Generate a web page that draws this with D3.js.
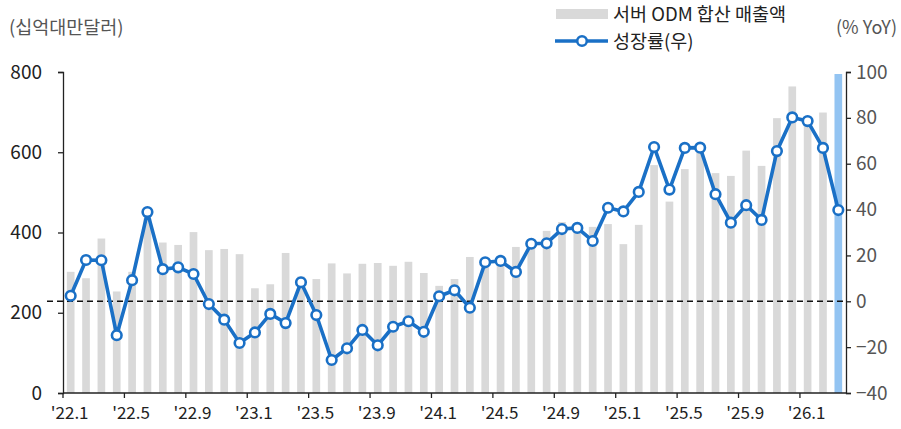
<!DOCTYPE html>
<html>
<head>
<meta charset="utf-8">
<script src="https://cdn.jsdelivr.net/npm/d3@7"></script>
<style>
  body { margin: 0; background: #fff; }
  svg text { font-family: "Noto Sans CJK KR", "Noto Sans", sans-serif; }
</style>
</head>
<body>
<div id="chart"></div>
<script>
// 월 (22.1 ~ 26.3)
const months = [];
for (let y = 22; y <= 26; y++) {
    for (let m = 1; m <= 12; m++) {
        if (y == 26 && m > 3) break;
        months.push("'" + y + "." + m);
    }
}

// 서버 ODM 합산 매출액 (십억대만달러)
const revenue = [
    302, 286, 385, 253, 302, 435, 375, 369, 401, 356, 359, 346,
    261, 271, 349, 290, 284, 323, 298, 322, 324, 317, 327, 299,
    267, 284, 339, 330, 325, 364, 380, 404, 426, 415, 414, 421,
    371, 419, 568, 477, 558, 600, 548, 541, 604, 566, 685, 764,
    680, 699, 795
];

// 성장률 (% YoY, 우축)
const growth = [
    2.4, 18.0, 17.9, -14.8, 9.2, 38.9, 14.0, 14.8, 11.9, -1.2, -8.0, -18.2,
    -13.6, -5.5, -9.5, 8.3, -6.0, -25.6, -20.5, -12.5, -19.2, -11.1, -8.7, -13.3,
    2.2, 4.8, -2.8, 17.0, 17.6, 12.8, 25.1, 25.3, 31.5, 32.0, 26.3, 40.8,
    39.2, 47.7, 67.3, 48.7, 66.9, 67.0, 46.7, 34.3, 41.9, 35.5, 65.5, 80.2,
    78.6, 66.9, 39.8
];

const leftTicks = [0, 200, 400, 600, 800];
const rightTicks = [-40, -20, 0, 20, 40, 60, 80, 100];
const xTickLabels = ["'22.1", "'22.5", "'22.9", "'23.1", "'23.5", "'23.9", "'24.1",
                     "'24.5", "'24.9", "'25.1", "'25.5", "'25.9", "'26.1"];

const W = 901, H = 429;
const mLeft = 63, mRight = 846, mTop = 72, mBottom = 393;
const blue = "#1a70c6";

const svg = d3.select("#chart").append("svg").attr("width", W).attr("height", H);

const x = d3.scaleBand().domain(months).range([mLeft, mRight]).paddingInner(0.5).paddingOuter(0.25);
const yL = d3.scaleLinear().domain([0, 800]).range([mBottom, mTop]);
const yR = d3.scaleLinear().domain([-40, 100]).range([mBottom, mTop]);

// 막대
svg.append("g").selectAll("rect")
    .data(revenue)
    .join("rect")
    .attr("x", (d, i) => x(months[i]))
    .attr("y", d => yL(d))
    .attr("width", x.bandwidth())
    .attr("height", d => yL(0) - yL(d))
    .attr("fill", (d, i) => i == revenue.length - 1 ? "#93c4f2" : "#d9d9d9");

// 0% 점선
svg.append("line")
    .attr("x1", 47).attr("x2", mRight)
    .attr("y1", yR(0)).attr("y2", yR(0))
    .attr("stroke", "#111").attr("stroke-width", 1.6)
    .attr("stroke-dasharray", "6,4");

// 축
const yAxisL = svg.append("g").attr("transform", "translate(" + mLeft + ",0)")
    .call(d3.axisLeft(yL).tickValues(leftTicks).tickSize(5).tickPadding(16));
const yAxisR = svg.append("g").attr("transform", "translate(" + mRight + ",0)")
    .call(d3.axisRight(yR).tickValues(rightTicks).tickSize(5).tickPadding(5));
yAxisL.selectAll("text").attr("fill", "#222");
yAxisR.selectAll("text").attr("fill", "#555");
[yAxisL, yAxisR].forEach(a => {
    a.selectAll("text").style("font-size", "19px");
    a.select(".domain").attr("stroke", "#222").attr("stroke-width", 1.3);
    a.selectAll(".tick line").attr("stroke", "#222").attr("stroke-width", 1.3);
});

// x축
const xg = svg.append("g");
xg.append("line").attr("x1", mLeft).attr("x2", mRight).attr("y1", mBottom).attr("y2", mBottom)
    .attr("stroke", "#222").attr("stroke-width", 1.3);
xTickLabels.forEach(lab => {
    const xi = x(lab) - x.bandwidth() / 2;
    xg.append("line").attr("x1", xi).attr("x2", xi).attr("y1", mBottom).attr("y2", mBottom + 5)
        .attr("stroke", "#222").attr("stroke-width", 1.3);
    xg.append("text").attr("x", x(lab) + x.bandwidth() / 2 - 1).attr("y", mBottom + 26)
        .attr("text-anchor", "middle").attr("fill", "#222").style("font-size", "17px")
        .text(lab);
});

// 성장률 선
const line = d3.line()
    .x((d, i) => x(months[i]) + x.bandwidth() / 2)
    .y(d => yR(d));
svg.append("path").datum(growth)
    .attr("d", line).attr("fill", "none")
    .attr("stroke", blue).attr("stroke-width", 3.6).attr("stroke-linejoin", "round");
svg.append("g").selectAll("circle")
    .data(growth)
    .join("circle")
    .attr("cx", (d, i) => x(months[i]) + x.bandwidth() / 2)
    .attr("cy", d => yR(d))
    .attr("r", 4.8)
    .attr("fill", "#fff").attr("stroke", blue).attr("stroke-width", 2.6);

// 단위
svg.append("text").attr("x", 9).attr("y", 34).attr("fill", "#555")
    .style("font-size", "18.5px").text("(십억대만달러)");
svg.append("text").attr("x", 897).attr("y", 34).attr("fill", "#555")
    .attr("text-anchor", "end").style("font-size", "18px").text("(% YoY)");

// 범례
svg.append("rect").attr("x", 556).attr("y", 9).attr("width", 52).attr("height", 10).attr("fill", "#d9d9d9");
svg.append("text").attr("x", 613).attr("y", 21).attr("fill", "#222")
    .style("font-size", "18.5px").text("서버 ODM 합산 매출액");
svg.append("line").attr("x1", 555).attr("x2", 608).attr("y1", 41).attr("y2", 41)
    .attr("stroke", blue).attr("stroke-width", 3.6);
svg.append("circle").attr("cx", 582).attr("cy", 41).attr("r", 4.8)
    .attr("fill", "#fff").attr("stroke", blue).attr("stroke-width", 2.6);
svg.append("text").attr("x", 613).attr("y", 48).attr("fill", "#222")
    .style("font-size", "18.5px").text("성장률(우)");
</script>
</body>
</html>
